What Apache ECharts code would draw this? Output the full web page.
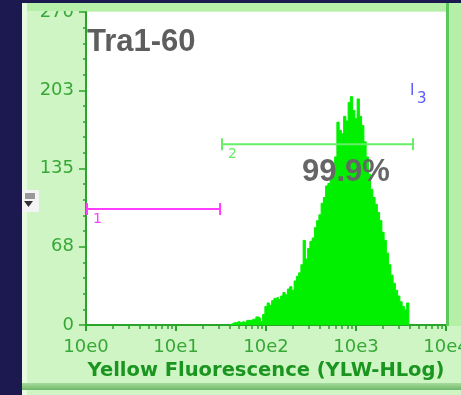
<!DOCTYPE html>
<html>
<head>
<meta charset="utf-8">
<script src="https://cdn.jsdelivr.net/npm/echarts@6/dist/echarts.min.js"></script>
<style>
  html, body { margin: 0; padding: 0; background: #cff5c5; }
  #chart { width: 461px; height: 395px; }
</style>
</head>
<body>
<div id="chart"></div>
<script>
// histogram bins, x in decades (10eN), bins start at 10e1.6, width 0.025 decade
const binStart = 1.6;
const binStep = 0.025;
const counts = [
  0, 1, 2, 2, 3, 2, 3, 2, 4, 4,
  5, 5, 7, 6, 3, 9, 16, 19, 17, 21,
  23, 24, 22, 25, 28, 26, 31, 33, 30, 38,
  42, 45, 52, 73, 57, 66, 72, 75, 84, 90,
  95, 105, 110, 120, 122, 125, 128, 145, 175, 168,
  165, 180, 176, 192, 197, 185, 178, 195, 180, 172,
  158, 145, 130, 117, 110, 104, 97, 90, 80, 73,
  62, 52, 43, 36, 30, 25, 20, 16, 13, 19,
  0
];

// y ticks: 0..270 in 4 steps, labels rounded
const yMax = 270;
const yStep = 67.5;

// gates: start, end (decades), level (counts)
const gateStart = [0, 1.5];
const gateEnd = [1.49, 3.633];
const gateLevel = [100, 156];
const gateNames = ['1', '2'];
const gateColors = ['#ff3cff', '#66ee66'];

const histData = counts.map((c, i) => [binStart + i * binStep, c]);
const gateData = gateStart.map((s, i) => [s, gateEnd[i], gateLevel[i]]);

// minor log ticks: 2..9 in each decade
const minorTicks = [];
for (let d = 0; d < 4; d++) {
  for (let k = 2; k <= 9; k++) minorTicks.push(d + Math.log10(k));
}

const green = '#2aa52a';
const chart = echarts.init(document.getElementById('chart'));

chart.setOption({
  backgroundColor: '#cff5c5',
  animation: false,
  grid: {
    left: 86, top: 12, right: 15, bottom: 70,
    outerBoundsMode: 'none', containLabel: false,
    show: true, backgroundColor: '#ffffff', borderWidth: 0
  },
  xAxis: [{
    type: 'value', min: 0, max: 4, interval: 1,
    splitLine: { show: false },
    axisLine: { lineStyle: { color: green, width: 2 } },
    axisTick: { length: 6, lineStyle: { color: green, width: 2 } },
    axisLabel: {
      margin: 13, color: '#36a836', fontFamily: 'DejaVu Sans', fontSize: 18,
      formatter: v => '10e' + v
    },
    name: 'Yellow Fluorescence (YLW-HLog)',
    nameLocation: 'middle', nameGap: 36,
    nameTextStyle: { color: '#1a951f', fontFamily: 'DejaVu Sans', fontWeight: 'bold', fontSize: 19.5 }
  }, {
    type: 'value', min: 0, max: 4, position: 'bottom',
    splitLine: { show: false },
    axisLine: { show: false },
    axisLabel: { show: false, customValues: [] },
    axisTick: { length: 4, customValues: minorTicks, lineStyle: { color: green, width: 1.5 } }
  }],
  yAxis: {
    type: 'value', min: 0, max: yMax, interval: yStep,
    splitLine: { show: false },
    axisLine: { show: true, lineStyle: { color: green, width: 2 } },
    axisTick: { show: true, length: 7, lineStyle: { color: green, width: 1.5 } },
    minorTick: { show: true, splitNumber: 5, length: 3, lineStyle: { color: green, width: 1.5 } },
    axisLabel: {
      margin: 12, color: '#36a836', fontFamily: 'DejaVu Sans', fontSize: 18,
      formatter: v => String(Math.round(v))
    }
  },
  series: [{
    type: 'line',
    data: histData,
    step: 'middle',
    symbol: 'none',
    lineStyle: { color: '#00f000', width: 1 },
    areaStyle: { color: '#00f000', opacity: 1 },
    z: 2
  }, {
    type: 'custom',
    data: gateData,
    z: 3,
    renderItem: (params, api) => {
      const a = api.coord([api.value(0), api.value(2)]);
      const b = api.coord([api.value(1), api.value(2)]);
      const c = gateColors[params.dataIndex];
      const st = { stroke: c, lineWidth: 2 };
      return {
        type: 'group',
        children: [
          { type: 'line', shape: { x1: a[0], y1: a[1], x2: b[0], y2: b[1] }, style: st },
          { type: 'line', shape: { x1: a[0] + 1, y1: a[1] - 6, x2: a[0] + 1, y2: a[1] + 6 }, style: st },
          { type: 'line', shape: { x1: b[0], y1: b[1] - 6, x2: b[0], y2: b[1] + 6 }, style: st },
          { type: 'text', x: a[0] + 7, y: a[1] + 3,
            style: { text: gateNames[params.dataIndex], fill: c, font: '14px DejaVu Sans' } }
        ]
      };
    }
  }],
  graphic: [
    // window frame
    { type: 'rect', shape: { x: 0, y: 0, width: 22, height: 395 }, style: { fill: '#1c1850' }, z: 10 },
    { type: 'rect', shape: { x: 0, y: 0, width: 461, height: 3 }, style: { fill: '#1c1850' }, z: 10 },
    { type: 'rect', shape: { x: 22, y: 3, width: 5, height: 392 }, style: { fill: '#e6fbe0' }, z: 9 },
    { type: 'rect', shape: { x: 27, y: 3, width: 434, height: 8 }, style: { fill: '#b6f0a8' }, z: 9 },
    { type: 'rect', shape: { x: 446, y: 3, width: 3, height: 323 }, style: { fill: '#5cc85c' }, z: 9 },
    { type: 'rect', shape: { x: 449, y: 3, width: 12, height: 323 }, style: { fill: '#b6f0a8' }, z: 9 },
    { type: 'rect', shape: { x: 22, y: 383, width: 439, height: 7 },
      style: { fill: new echarts.graphic.LinearGradient(0, 0, 0, 1, [
        { offset: 0, color: '#a6dc9c' }, { offset: 1, color: '#6fb86a' }]) }, z: 9 },
    // small scroll widget on the left edge
    { type: 'rect', shape: { x: 22, y: 190, width: 17, height: 22 }, style: { fill: '#f4f4f4' }, z: 11 },
    { type: 'polygon', shape: { points: [[24, 201], [33, 201], [28.5, 207]] }, style: { fill: '#333' }, z: 12 },
    { type: 'rect', shape: { x: 25, y: 193, width: 10, height: 6 }, style: { fill: '#999' }, z: 12 },
    // titles
    { type: 'text', x: 87, y: 27, z: 20,
      style: { text: 'Tra1-60', fill: '#5e5e5e', font: 'bold 31px "Liberation Sans"', verticalAlign: 'top' } },
    { type: 'text', x: 302, y: 157, z: 20,
      style: { text: '99.9%', fill: '#666666', font: 'bold 31px "Liberation Sans"', verticalAlign: 'top' } },
    // gate 3 marker
    { type: 'text', x: 410, y: 84, z: 20,
      style: { text: 'I', fill: '#5a5aff', font: '15px "DejaVu Sans"', verticalAlign: 'top' } },
    { type: 'text', x: 417, y: 92, z: 20,
      style: { text: '3', fill: '#5a5aff', font: '15px "DejaVu Sans"', verticalAlign: 'top' } }
  ]
});
</script>
</body>
</html>
